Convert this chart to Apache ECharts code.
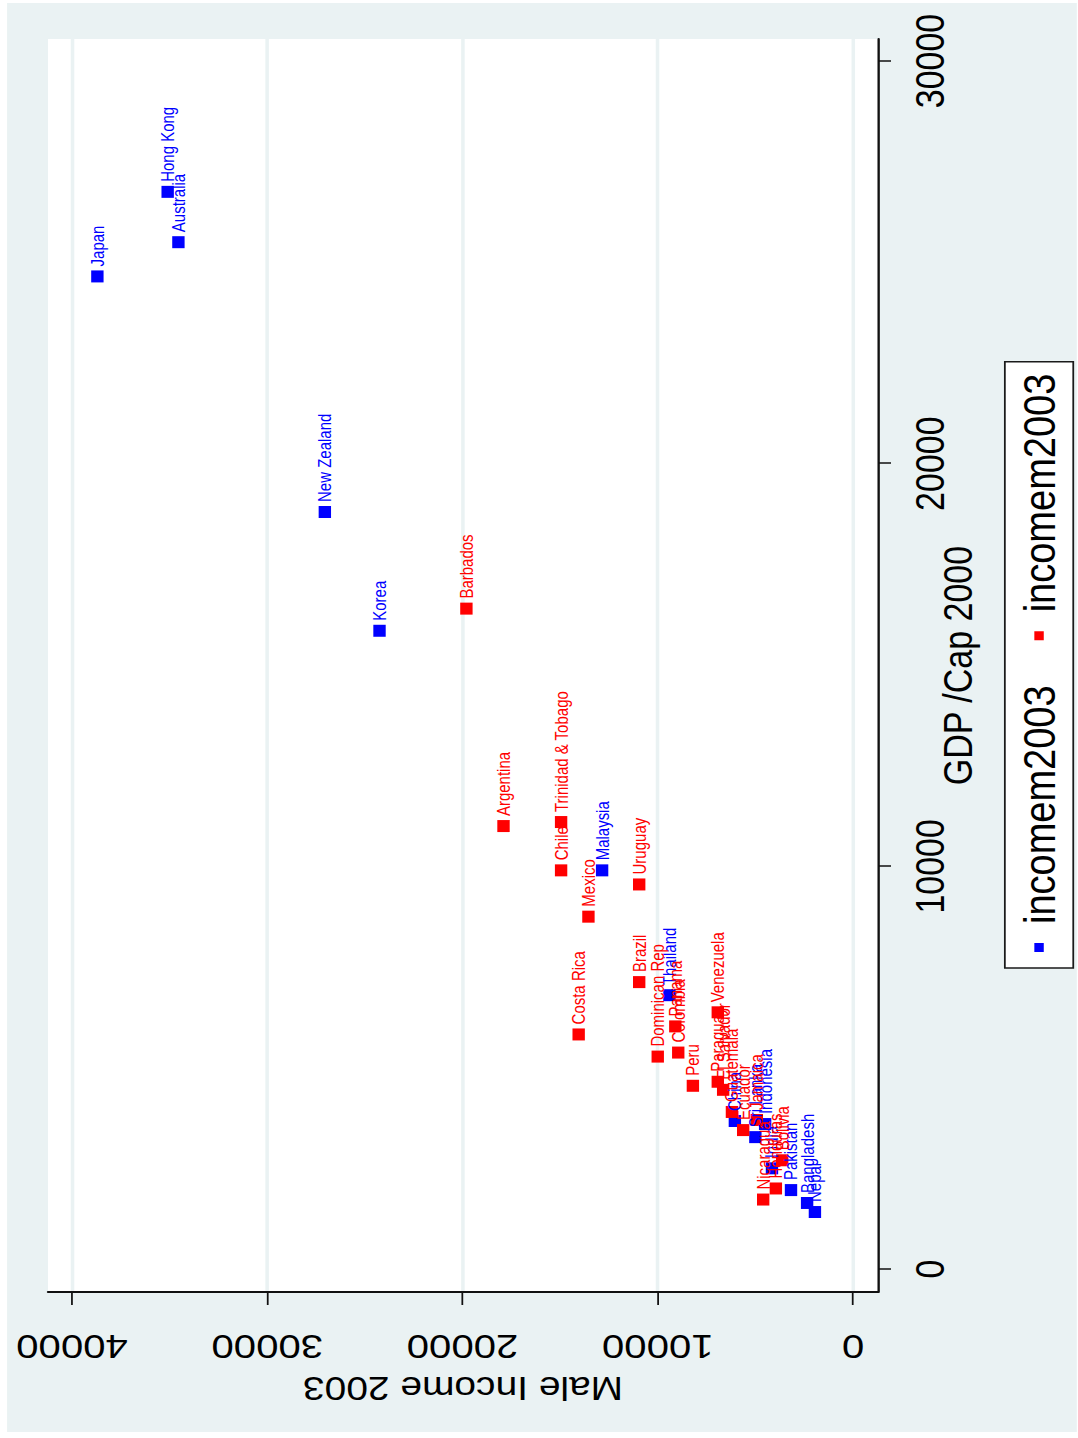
<!DOCTYPE html>
<html>
<head>
<meta charset="utf-8">
<title>Male Income 2003 vs GDP per capita 2000</title>
<script src="https://cdn.jsdelivr.net/npm/echarts@6/dist/echarts.min.js"></script>
<style>
  html, body { margin: 0; padding: 0; background: #ffffff; overflow: hidden; width: 1078px; height: 1438px; }
  /* The chart is laid out landscape, stretched a little vertically and turned a quarter turn counter-clockwise */
  #chart {
    position: absolute; left: 0; top: 0;
    width: 1438px; height: 914px;
    transform-origin: 0 0;
    transform: translate(0, 1438px) rotate(-90deg) scale(1, 1.1794);
  }
</style>
</head>
<body>
<div id="chart"></div>
<script>
// Asia-Pacific countries (blue)
const asiaNames  = ['Japan', 'Hong Kong', 'Australia', 'New Zealand', 'Korea', 'Malaysia', 'Thailand',
                    'China', 'Sri Lanka', 'Indonesia', 'India', 'Pakistan', 'Bangladesh', 'Nepal'];
const asiaGdp    = [24650, 26750, 25500, 18800, 15850, 9900, 6800, 3675, 3275, 3600, 2500, 1960, 1640, 1415];
const asiaIncome = [38700, 35100, 34550, 27050, 24250, 12850, 9400, 6050, 5000, 4500, 4150, 3175, 2350, 1950];

// Latin America & Caribbean countries (red)
const latamNames  = ['Barbados', 'Argentina', 'Trinidad & Tobago', 'Chile', 'Mexico', 'Uruguay', 'Costa Rica',
                     'Brazil', 'Dominican Rep', 'Panama', 'Colombia', 'Peru', 'Venezuela', 'Paraguay',
                     'El Salvador', 'Guatemala', 'Ecuador', 'Jamaica', 'Bolivia', 'Honduras', 'Nicaragua'];
const latamGdp    = [16400, 11000, 11100, 9900, 8750, 9550, 5825, 7125, 5275, 6025, 5375, 4550, 6375, 4650,
                     4450, 3900, 3450, 3700, 2700, 2000, 1725];
const latamIncome = [19800, 17900, 14950, 14950, 13550, 10950, 14050, 10950, 10000, 9100, 8950, 8200, 6925, 6925,
                     6650, 6200, 5625, 4925, 3625, 3950, 4600];

// Axis ticks
const gdpTicks    = [0, 10000, 20000, 30000];
const incomeTicks = [0, 10000, 20000, 30000, 40000];

const legendText = 'incomem2003';
const FONT = '"Liberation Sans", Arial, sans-serif';
const BLUE = '#0000ff';
const RED = '#ff0000';
const PANEL = '#eaf2f3';

function points(gdp, income, names) {
  return gdp.map((g, i) => [g, income[i], names[i]]);
}

function scatterSeries(name, data, color) {
  return {
    name: name,
    type: 'scatter',
    data: data,
    symbol: 'rect',
    symbolSize: [12, 10.5],
    itemStyle: { color: color, opacity: 1 },
    label: {
      show: true,
      position: 'right',
      distance: 4,
      formatter: p => p.data[2],
      color: color,
      fontSize: 15,
      fontFamily: FONT
    },
    emphasis: { disabled: true }
  };
}

const plainNumber = v => String(v);

const chart = echarts.init(document.getElementById('chart'), null, { renderer: 'svg' });

chart.setOption({
  animation: false,
  graphic: [{
    type: 'rect',
    z: -10,
    silent: true,
    shape: { x: 6, y: 6, width: 1429, height: 907 },
    style: { fill: PANEL }
  }],
  grid: {
    left: 146, right: 39, top: 40.7, bottom: 169.5,
    show: true, backgroundColor: '#ffffff', borderWidth: 0,
    outerBoundsMode: 'none'
  },
  legend: {
    left: 470, top: 852,
    orient: 'horizontal',
    icon: 'rect',
    itemWidth: 9, itemHeight: 8, itemGap: 45,
    padding: [10, 12, 10, 16],
    backgroundColor: '#ffffff',
    borderColor: '#1a1a1a', borderWidth: 1.5, borderRadius: 0,
    formatter: () => legendText,
    textStyle: { fontSize: 38, color: '#000', fontFamily: FONT, padding: [0, 0, 0, 14] },
    selectedMode: false,
    data: ['Asia-Pacific', 'Latin America & Caribbean']
  },
  xAxis: {
    type: 'value',
    min: -571, max: 30546,
    name: 'GDP /Cap 2000',
    nameLocation: 'middle',
    nameGap: 51,
    nameMoveOverlap: false,
    nameTextStyle: { fontSize: 34, color: '#000', fontFamily: FONT },
    axisLine: { show: true, onZero: false, lineStyle: { color: '#111', width: 2 } },
    axisTick: { show: true, customValues: gdpTicks, length: 11, lineStyle: { color: '#111', width: 1.5 } },
    axisLabel: { customValues: gdpTicks, formatter: plainNumber, margin: 27, fontSize: 34, color: '#000', fontFamily: FONT },
    splitLine: { show: false }
  },
  yAxis: {
    type: 'value',
    min: -1284, max: 41229,
    name: 'Male Income 2003',
    nameLocation: 'middle',
    nameGap: 80,
    nameMoveOverlap: false,
    nameTextStyle: { fontSize: 33, color: '#000', fontFamily: FONT },
    axisLine: { show: true, onZero: false, lineStyle: { color: '#111', width: 2 } },
    axisTick: { show: true, customValues: incomeTicks, length: 13, lineStyle: { color: '#111', width: 1.5 } },
    axisLabel: { customValues: incomeTicks, formatter: plainNumber, rotate: 90, margin: 38, fontSize: 34, color: '#000', fontFamily: FONT },
    splitLine: { show: true, lineStyle: { color: PANEL, width: 3 } }
  },
  series: [
    scatterSeries('Asia-Pacific', points(asiaGdp, asiaIncome, asiaNames), BLUE),
    scatterSeries('Latin America & Caribbean', points(latamGdp, latamIncome, latamNames), RED)
  ]
});
</script>
</body>
</html>
